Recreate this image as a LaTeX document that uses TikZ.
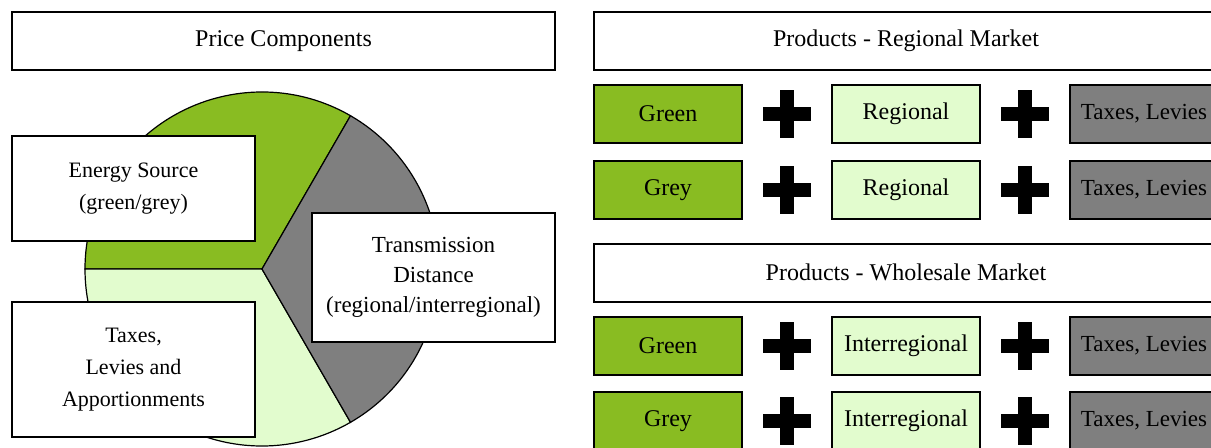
\documentclass[tikz,border=0pt]{standalone}
\usepackage{fontspec}
\setmainfont{Liberation Serif}
\usetikzlibrary{positioning}
\definecolor{srcgreen}{RGB}{137,188,34}
\definecolor{distgreen}{RGB}{226,252,206}
\definecolor{taxgrey}{RGB}{127,127,127}

\begin{document}
\begin{tikzpicture}[x=0.5pt,y=-0.5pt,node distance=10.5pt,
	every node/.style={font=\fontsize{12}{16}\selectfont},
	title box/.style={draw,line width=1pt,fill=white,minimum width=271.5pt,minimum height=29pt,inner sep=0},
	label box/.style={draw,line width=1pt,fill=white,align=center,minimum width=121.5pt,inner sep=0,
		font=\fontsize{11}{16}\selectfont},
	item box/.style={draw,line width=1pt,minimum width=74pt,minimum height=29pt,inner sep=0,outer sep=0},
	plus node/.style={minimum width=24pt,minimum height=24pt,inner sep=0,outer sep=0},
	slice/.style={draw,line width=0.6pt}]
	
	\clip (0,0) rectangle (1211,447);
	
	% pie
	\coordinate (pc) at (262,269);
	\filldraw[slice,fill=srcgreen] (pc) -- +(-60:177) arc[start angle=-60,end angle=-180,radius=177] -- cycle;
	\filldraw[slice,fill=distgreen] (pc) -- +(180:177) arc[start angle=180,end angle=60,radius=177] -- cycle;
	\filldraw[slice,fill=taxgrey] (pc) -- +(60:177) arc[start angle=60,end angle=-60,radius=177] -- cycle;
	
	\node[title box] (price) at (283.5,41) {Price Components};
	\node[label box,minimum height=52.5pt] (source) at (133.5,188.5) {Energy Source\\(green/grey)};
	\node[label box,minimum height=67.5pt] (taxes) at (133.5,369.5) {Taxes,\\Levies and\\Apportionments};
	\node[label box,minimum height=64.5pt,font=\fontsize{11.5}{15}\selectfont] (distance) at (433.5,277.5) {Transmission\\Distance\\(regional/interregional)};
	
	% products
	\node[title box,minimum width=312pt] (regional) at (906,41) {Products - Regional Market};
	\node[title box,minimum width=312pt] (wholesale) at (906,272.5) {Products - Wholesale Market};
	
	\node[item box,fill=srcgreen] (g1) at (668,113.5) {Green};
	\node[plus node] (p1) [right=of g1] {};
	\node[item box,fill=distgreen] (d1) [right=of p1] {Regional};
	\node[plus node] (q1) [right=of d1] {};
	\node[item box,fill=taxgrey,font=\fontsize{11.5}{14}\selectfont] (t1) [right=of q1] {Taxes, Levies};
	
	\node[item box,fill=srcgreen] (g2) at (668,190) {Grey};
	\node[plus node] (p2) [right=of g2] {};
	\node[item box,fill=distgreen] (d2) [right=of p2] {Regional};
	\node[plus node] (q2) [right=of d2] {};
	\node[item box,fill=taxgrey,font=\fontsize{11.5}{14}\selectfont] (t2) [right=of q2] {Taxes, Levies};
	
	\node[item box,fill=srcgreen] (g3) at (668,346) {Green};
	\node[plus node] (p3) [right=of g3] {};
	\node[item box,fill=distgreen] (d3) [right=of p3] {Interregional};
	\node[plus node] (q3) [right=of d3] {};
	\node[item box,fill=taxgrey,font=\fontsize{11.5}{14}\selectfont] (t3) [right=of q3] {Taxes, Levies};
	
	\node[item box,fill=srcgreen] (g4) at (668,421) {Grey};
	\node[plus node] (p4) [right=of g4] {};
	\node[item box,fill=distgreen] (d4) [right=of p4] {Interregional};
	\node[plus node] (q4) [right=of d4] {};
	\node[item box,fill=taxgrey,font=\fontsize{11.5}{14}\selectfont] (t4) [right=of q4] {Taxes, Levies};
	
	\foreach \p in {p1,q1,p2,q2,p3,q3,p4,q4} {
		\fill ([shift={(-12pt,-3.5pt)}]\p.center) rectangle ([shift={(12pt,3.5pt)}]\p.center);
		\fill ([shift={(-3.5pt,-12pt)}]\p.center) rectangle ([shift={(3.5pt,12pt)}]\p.center);
	}
\end{tikzpicture}
\end{document}
